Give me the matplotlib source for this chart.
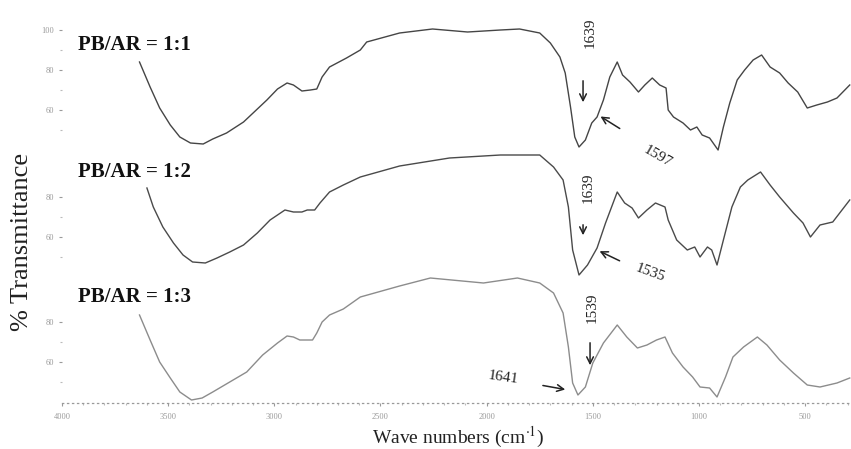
import matplotlib
matplotlib.use("Agg")
import matplotlib.pyplot as plt
import numpy as np

# ---------------- data (wavenumber cm-1, % transmittance) ----------------
wn_11 = [3635, 3585, 3540, 3490, 3445, 3395, 3335, 3290, 3225, 3145, 3100, 3035, 2985,
         2940, 2910, 2870, 2830, 2800, 2775, 2740, 2660, 2595, 2565, 2410, 2255, 2090,
         1935, 1845, 1750, 1700, 1655, 1630, 1605, 1585, 1565, 1535, 1505, 1480, 1450,
         1420, 1385, 1360, 1325, 1285, 1255, 1220, 1185, 1155, 1145, 1120, 1075, 1040,
         1010, 985, 950, 910, 885, 855, 820, 785, 745, 705, 665, 620, 580, 535, 490,
         445, 395, 350, 290]
t_11 = [84.0, 71.5, 61.0, 52.5, 46.5, 43.5, 43.0, 45.5, 48.5, 54.0, 58.5, 65.0, 70.5,
        73.5, 72.5, 69.5, 70.0, 70.5, 76.5, 81.5, 86.0, 90.0, 94.0, 98.5, 100.5, 99.0,
        100.0, 100.5, 98.5, 93.5, 86.5, 78.5, 61.5, 46.5, 41.5, 45.0, 53.5, 56.5, 65.0,
        76.5, 84.0, 77.5, 74.0, 69.0, 72.5, 76.0, 72.5, 71.0, 60.0, 56.5, 53.5, 50.0,
        51.5, 47.5, 46.0, 40.0, 51.5, 63.5, 75.0, 80.0, 85.0, 87.5, 81.5, 78.5, 73.5,
        69.0, 61.0, 62.5, 64.0, 66.0, 72.5]

wn_12 = [3600, 3570, 3525, 3475, 3430, 3385, 3325, 3270, 3210, 3145, 3080, 3020, 2950,
         2910, 2870, 2845, 2810, 2785, 2740, 2675, 2595, 2410, 2175, 1935, 1750, 1685,
         1640, 1615, 1595, 1565, 1525, 1480, 1440, 1385, 1350, 1315, 1285, 1245, 1205,
         1160, 1145, 1105, 1055, 1020, 995, 960, 940, 915, 885, 845, 805, 770, 710, 665,
         620, 555, 510, 475, 430, 370, 290]
t_12 = [84.5, 75.0, 65.0, 57.0, 51.0, 47.5, 47.0, 49.5, 52.5, 56.0, 62.0, 68.5, 73.5,
        72.5, 72.5, 73.5, 73.5, 77.0, 82.5, 86.0, 90.0, 95.5, 99.5, 101.0, 101.0, 95.0,
        88.5, 75.0, 53.5, 41.0, 46.0, 54.5, 67.0, 82.5, 77.0, 74.5, 69.5, 73.5, 77.0,
        75.0, 68.5, 58.5, 53.5, 55.0, 50.0, 55.0, 53.5, 46.0, 58.5, 75.0, 85.0, 88.5,
        92.5, 86.0, 80.0, 72.0, 67.0, 60.0, 66.0, 67.5, 78.5]

wn_13 = [3635, 3585, 3540, 3490, 3445, 3390, 3340, 3290, 3210, 3130, 3055, 2985, 2940,
         2910, 2880, 2820, 2800, 2775, 2740, 2675, 2595, 2410, 2265, 2015, 1855, 1750,
         1685, 1640, 1615, 1595, 1570, 1535, 1500, 1450, 1385, 1340, 1290, 1245, 1200,
         1160, 1125, 1075, 1030, 995, 950, 915, 875, 840, 790, 725, 680, 620, 555, 490,
         430, 350, 290]
t_13 = [83.5, 71.0, 60.0, 52.0, 45.0, 41.0, 42.0, 45.0, 50.0, 55.0, 63.5, 69.5, 73.0,
        72.5, 71.0, 71.0, 74.5, 80.0, 83.5, 86.5, 92.5, 98.0, 102.0, 99.5, 102.0, 99.5,
        94.5, 84.5, 67.5, 49.5, 43.5, 47.5, 59.5, 69.5, 78.5, 72.5, 67.0, 68.5, 71.0,
        72.5, 64.5, 57.5, 52.5, 47.5, 47.0, 42.5, 52.5, 62.5, 67.5, 72.5, 68.5, 61.0,
        54.5, 48.5, 47.5, 49.5, 52.0]

series_labels = ["PB/AR = 1:1", "PB/AR = 1:2", "PB/AR = 1:3"]
offsets = [86.5, 23.0, -39.5]          # vertical stacking offsets
panel_ticks = [[100, 80, 60], [80, 60], [80, 60]]
x_ticks = [4000, 3500, 3000, 2500, 2000, 1500, 1000, 500]

# ---------------- figure ----------------
plt.rcParams["font.family"] = ["Liberation Serif", "DejaVu Serif"]
plt.rcParams["mathtext.fontset"] = "stix"

fig = plt.figure(figsize=(8.51, 4.49), dpi=100)
W, H = 851, 449
ax = fig.add_axes([62 / W, (H - 403) / H, (851 - 62) / W, (403 - 13) / H])
ax.set_xlim(4000, 284)
ax.set_ylim(0, 195)

colors = ["#454545", "#4a4a4a", "#8c8c8c"]
for wn, t, off, c in zip([wn_11, wn_12, wn_13], [t_11, t_12, t_13], offsets, colors):
    ax.plot(wn, np.array(t) + off, color=c, lw=1.0)

# y ticks: each stacked panel has its own scale
yt, ytl = [], []
for ticks, off in zip(panel_ticks, offsets):
    for v in ticks:
        yt.append(v + off)
        ytl.append(str(v))
ax.set_yticks(yt)
ax.set_yticklabels(ytl)
minor_y = []
for ticks, off in zip(panel_ticks, offsets):
    for v in ticks:
        minor_y.append(v + off - 10)
ax.set_yticks(minor_y, minor=True)

ax.set_xticks(x_ticks)
ax.set_xticklabels([str(v) for v in x_ticks])
ax.set_xticks(np.arange(4000, 284, -100), minor=True)

for s in ["top", "right", "left"]:
    ax.spines[s].set_visible(False)
ax.spines["bottom"].set_linestyle((0, (1, 3)))
ax.spines["bottom"].set_color("#9a9a9a")
ax.spines["bottom"].set_linewidth(0.9)

ax.tick_params(axis="both", which="major", labelsize=6, labelcolor="#9a9a9a",
               color="#9a9a9a", length=2.5, width=0.8)
ax.tick_params(axis="both", which="minor", color="#bbbbbb", length=1.5, width=0.8)
ax.tick_params(axis="x", pad=5)
ax.tick_params(axis="y", pad=3)

# panel labels
label_y = [179, 115.5, 53]
for lab, y in zip(series_labels, label_y):
    ax.text(3925, y, lab, fontsize=15, fontweight="bold", ha="left", va="center",
            color="#111111")

# peak annotations
ann_kw = dict(fontsize=11, color="#222222", ha="center", va="center")
arrow_kw = dict(arrowstyle="->", color="#222222", lw=1.1, mutation_scale=12)

# 1:1
ax.text(1513, 185, "1639", rotation=90, **ann_kw)
ax.annotate("", xy=(1546, 149), xytext=(1546, 162.5), arrowprops=arrow_kw)
ax.text(1197, 123, "1597", rotation=-30, **ann_kw)
ax.annotate("", xy=(1475, 144), xytext=(1362, 136.5), arrowprops=arrow_kw)
# 1:2
ax.text(1522, 107.5, "1639", rotation=90, **ann_kw)
ax.annotate("", xy=(1546, 82.5), xytext=(1546, 90.5), arrowprops=arrow_kw)
ax.text(1230, 65, "1535", rotation=-20, **ann_kw)
ax.annotate("", xy=(1480, 76.5), xytext=(1362, 70.5), arrowprops=arrow_kw)
# 1:3
ax.text(1504, 47.5, "1539", rotation=90, **ann_kw)
ax.annotate("", xy=(1513, 17.5), xytext=(1513, 31.5), arrowprops=arrow_kw)
ax.text(1923, 12.5, "1641", rotation=-8, **ann_kw)
ax.annotate("", xy=(1617, 6.5), xytext=(1748, 9), arrowprops=arrow_kw)

# axis labels
fig.text(22 / W, 1 - 242 / H, "% Transmittance", rotation=90, fontsize=19,
         ha="center", va="center", color="#222222")
fig.text(458 / W, 1 - 437 / H, r"Wave numbers (cm$^{\cdot 1}$)", fontsize=14,
         ha="center", va="center", color="#222222")

fig.savefig("out.png", dpi=100, facecolor="white")
